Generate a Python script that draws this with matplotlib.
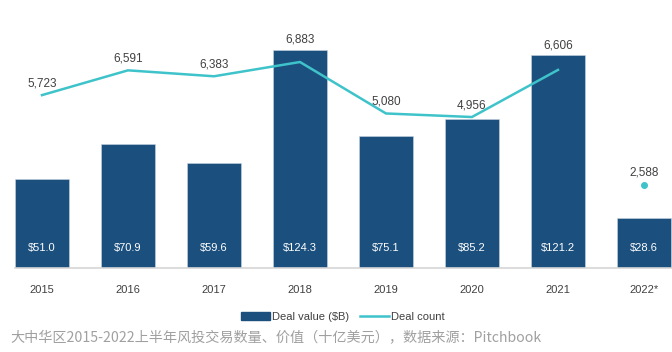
import matplotlib.pyplot as plt
from matplotlib.patches import Patch
from matplotlib.lines import Line2D

# data
years = ['2015', '2016', '2017', '2018', '2019', '2020', '2021', '2022*']
deal_value = [51.0, 70.9, 59.6, 124.3, 75.1, 85.2, 121.2, 28.6]
deal_count = [5723, 6591, 6383, 6883, 5080, 4956, 6606, 2588]
caption = '大中华区2015-2022上半年风投交易数量、价值（十亿美元），数据来源：Pitchbook'

bar_color = '#1b4f7e'
line_color = '#3fc3ca'
text_color = '#404040'

plt.rcParams['font.family'] = ['Liberation Sans', 'DejaVu Sans']

fig = plt.figure(figsize=(6.72, 3.52), dpi=100)
ax = fig.add_axes([0, 84 / 352, 1, 238 / 352])
x = list(range(len(years)))

ax.bar(x, deal_value, width=0.62, color=bar_color, edgecolor='#c9d6e3', linewidth=0.4, zorder=2)
ax.set_xlim(-0.488, 7.326)
ax.set_ylim(0, 135.7)

# value labels inside the bars, near the base
for xi, v in zip(x, deal_value):
    ax.text(xi, 11.5, f'${v:.1f}', ha='center', va='center', color='white', fontsize=8, zorder=3)

for s in ['top', 'right', 'left']:
    ax.spines[s].set_visible(False)
ax.spines['bottom'].set_color('#d6d6d6')
ax.spines['bottom'].set_linewidth(1.2)
ax.spines['bottom'].set_bounds(-0.315, 7.326)
ax.set_yticks([])
ax.set_xticks(x)
ax.set_xticklabels(years, fontsize=8, color=text_color)
ax.tick_params(axis='x', length=0, pad=12)

# deal count on a second axis
ax2 = ax.twinx()
ax2.set_ylim(-333, 8004)
ax2.set_yticks([])
for s in ax2.spines.values():
    s.set_visible(False)
ax2.plot(x[:-1], deal_count[:-1], color=line_color, linewidth=1.8, zorder=4)
ax2.plot(x[-1], deal_count[-1], 'o', color=line_color, markersize=4, zorder=4)

# count labels above the point, or above the bar when the bar is taller
fig.canvas.draw()
for xi, c, v in zip(x, deal_count, deal_value):
    y_line = ax2.transData.transform((xi, c))[1]
    y_bar = ax.transData.transform((xi, v))[1]
    y_txt = max(y_line + 12, y_bar + 10)
    fig.text(ax.transData.transform((xi, 0))[0] / 672, y_txt / 352, f'{c:,}',
             ha='center', va='center', fontsize=8.5, color=text_color)

handles = [Patch(facecolor=bar_color, edgecolor=bar_color),
           Line2D([0], [0], color=line_color, linewidth=1.8)]
fig.legend(handles, ['Deal value ($B)', 'Deal count'], loc='center',
           bbox_to_anchor=(343 / 672, 1 - 317 / 352), ncol=2, frameon=False,
           fontsize=8, handlelength=2.6, handleheight=0.7, columnspacing=1.0,
           handletextpad=0.2, labelcolor=text_color)

fig.text(10 / 672, 1 - 338 / 352, caption, ha='left', va='center', fontsize=10.2,
         color='#a0a0a0', family=['Noto Sans CJK SC', 'DejaVu Sans'])

fig.savefig('out.png', dpi=100)
